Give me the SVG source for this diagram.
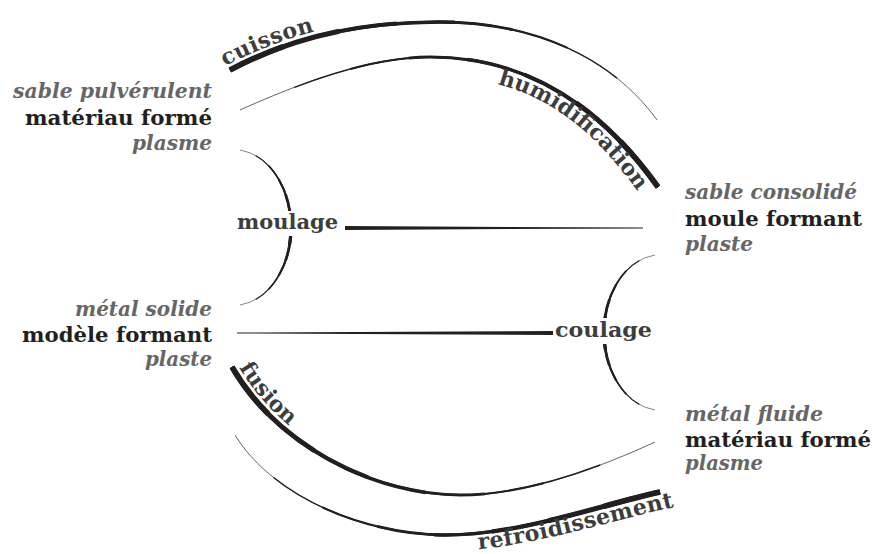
<svg xmlns="http://www.w3.org/2000/svg" width="872" height="554" viewBox="0 0 872 554">
<style>
.arc{fill:none;stroke:#231f20;stroke-linecap:butt}
.t1{stroke-width:.7;stroke-dasharray:100 300}
.t2{stroke-width:1.4;stroke-dasharray:87.5 300}
.t3{stroke-width:2.1;stroke-dasharray:75 300}
.t4{stroke-width:2.8;stroke-dasharray:62.5 300}
.t5{stroke-width:3.5;stroke-dasharray:50 300}
.t6{stroke-width:4.2;stroke-dasharray:37.5 300}
.t7{stroke-width:4.9;stroke-dasharray:25 300}
.t8{stroke-width:5.6;stroke-dasharray:12.5 300}
.m1{stroke-width:.55;stroke-dasharray:100 300}
.m2{stroke-width:1.1;stroke-dasharray:83.3 300;stroke-dashoffset:-8.33}
.m3{stroke-width:1.65;stroke-dasharray:66.7 300;stroke-dashoffset:-16.67}
.m4{stroke-width:2.2;stroke-dasharray:50 300;stroke-dashoffset:-25}
.m5{stroke-width:2.75;stroke-dasharray:33.3 300;stroke-dashoffset:-33.3}
.m6{stroke-width:3.3;stroke-dasharray:16.7 300;stroke-dashoffset:-41.7}
.bar{fill:#231f20}
.lbl{font-family:"DejaVu Serif",serif;font-weight:bold;font-size:21px;fill:#3d3d3d}
.cl{font-size:22px}
.nb{font-family:"DejaVu Serif",serif;font-weight:bold;font-size:21px;fill:#231f20}
.ni{font-family:"DejaVu Serif",serif;font-weight:bold;font-style:italic;font-size:20px;fill:#666}
.l{text-anchor:end}
</style>
<defs>
<path id="a1" pathLength="100" d="M230,70 C300,33 370,22 440,22 C530,22 610,55 657,120"/>
<path id="a2" pathLength="100" d="M658,187 C610,120 540,57 430,57 C370,57 300,83 240,110"/>
<path id="a3" pathLength="100" d="M232,367 C280,450 380,495 460,495 C530,495 605,465 655,442"/>
<path id="a4" pathLength="100" d="M660,492 C600,505 520,535 445,535 C370,535 275,500 235,435"/>
<path id="b1" pathLength="100" d="M240,150 A57.5 78 0 0 1 240,305"/>
<path id="b2" pathLength="100" d="M655,255 A57.5 78 0 0 0 655,410"/>
<path id="pc" d="M225,66 C296,29 368,16 440,16"/>
<path id="ph" d="M430,76 C540,76 595,131 643,199"/>
<path id="pf" d="M237,364 C285,447 380,489 460,489"/>
<path id="pr" d="M445,551 C520,551 604,522 674,507"/>
<mask id="mL" maskUnits="userSpaceOnUse" x="0" y="0" width="872" height="554"><rect width="872" height="554" fill="#fff"/><rect x="278" y="211" width="24" height="25" fill="#000"/></mask>
<mask id="mR" maskUnits="userSpaceOnUse" x="0" y="0" width="872" height="554"><rect width="872" height="554" fill="#fff"/><rect x="592" y="318" width="24" height="26" fill="#000"/></mask>
</defs>
<rect width="872" height="554" fill="#fff"/>
<g id="connectors">
<g id="arc-cuisson" class="arc"><use href="#a1" class="t1"/><use href="#a1" class="t2"/><use href="#a1" class="t3"/><use href="#a1" class="t4"/><use href="#a1" class="t5"/><use href="#a1" class="t6"/><use href="#a1" class="t7"/><use href="#a1" class="t8"/></g>
<g id="arc-humidification" class="arc"><use href="#a2" class="t1"/><use href="#a2" class="t2"/><use href="#a2" class="t3"/><use href="#a2" class="t4"/><use href="#a2" class="t5"/><use href="#a2" class="t6"/><use href="#a2" class="t7"/><use href="#a2" class="t8"/></g>
<g id="arc-fusion" class="arc"><use href="#a3" class="t1"/><use href="#a3" class="t2"/><use href="#a3" class="t3"/><use href="#a3" class="t4"/><use href="#a3" class="t5"/><use href="#a3" class="t6"/><use href="#a3" class="t7"/><use href="#a3" class="t8"/></g>
<g id="arc-refroidissement" class="arc"><use href="#a4" class="t1"/><use href="#a4" class="t2"/><use href="#a4" class="t3"/><use href="#a4" class="t4"/><use href="#a4" class="t5"/><use href="#a4" class="t6"/><use href="#a4" class="t7"/><use href="#a4" class="t8"/></g>
<g id="bracket-moulage" class="arc" mask="url(#mL)"><use href="#b1" class="m1"/><use href="#b1" class="m2"/><use href="#b1" class="m3"/><use href="#b1" class="m4"/><use href="#b1" class="m5"/><use href="#b1" class="m6"/></g>
<g id="bracket-coulage" class="arc" mask="url(#mR)"><use href="#b2" class="m1"/><use href="#b2" class="m2"/><use href="#b2" class="m3"/><use href="#b2" class="m4"/><use href="#b2" class="m5"/><use href="#b2" class="m6"/></g>
<polygon id="line-moulage" class="bar" points="345,226 643,227.6 643,228.4 345,230"/>
<polygon id="line-coulage" class="bar" points="237,332.6 553,331 553,335 237,333.4"/>
<text class="lbl cl"><textPath href="#pc" textLength="96">cuisson</textPath></text>
<text class="lbl cl"><textPath href="#ph" startOffset="68">humidification</textPath></text>
<text class="lbl cl"><textPath href="#pf" startOffset="4">fusion</textPath></text>
<text class="lbl cl"><textPath href="#pr" startOffset="100%" text-anchor="end" textLength="200">refroidissement</textPath></text>
<text class="lbl" x="237" y="229" textLength="101" lengthAdjust="spacingAndGlyphs">moulage</text>
<text class="lbl" x="555" y="337" textLength="97" lengthAdjust="spacingAndGlyphs">coulage</text>
</g>
<g id="node-sable-pulverulent">
<text class="ni l" x="212" y="98" textLength="199" lengthAdjust="spacingAndGlyphs">sable pulvérulent</text>
<text class="nb l" x="212" y="125" textLength="187" lengthAdjust="spacingAndGlyphs">matériau formé</text>
<text class="ni l" x="212" y="150" textLength="80" lengthAdjust="spacingAndGlyphs">plasme</text>
</g>
<g id="node-metal-solide">
<text class="ni l" x="212" y="316" textLength="137" lengthAdjust="spacingAndGlyphs">métal solide</text>
<text class="nb l" x="212" y="342" textLength="190" lengthAdjust="spacingAndGlyphs">modèle formant</text>
<text class="ni l" x="212" y="366" textLength="67" lengthAdjust="spacingAndGlyphs">plaste</text>
</g>
<g id="node-sable-consolide">
<text class="ni" x="685" y="199" textLength="172" lengthAdjust="spacingAndGlyphs">sable consolidé</text>
<text class="nb" x="685" y="226" textLength="177" lengthAdjust="spacingAndGlyphs">moule formant</text>
<text class="ni" x="685" y="251" textLength="68" lengthAdjust="spacingAndGlyphs">plaste</text>
</g>
<g id="node-metal-fluide">
<text class="ni" x="685" y="421" textLength="138" lengthAdjust="spacingAndGlyphs">métal fluide</text>
<text class="nb" x="685" y="447" textLength="186" lengthAdjust="spacingAndGlyphs">matériau formé</text>
<text class="ni" x="685" y="470" textLength="78" lengthAdjust="spacingAndGlyphs">plasme</text>
</g>
</svg>
